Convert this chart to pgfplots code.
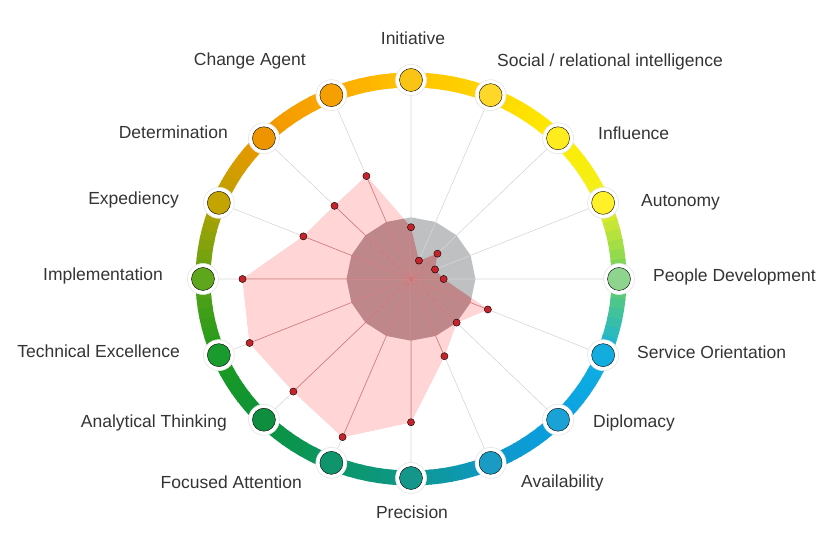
\documentclass[border=0pt]{standalone}
\usepackage{fontspec}
\setmainfont{Liberation Sans}
\usepackage{pgfplots}
\pgfplotsset{compat=1.18}

% ring colours, one per spoke, clockwise from Initiative
\definecolor{R0}{RGB}{255,196,0}
\definecolor{R1}{RGB}{255,214,0}
\definecolor{R2}{RGB}{255,236,0}
\definecolor{R3}{RGB}{240,240,30}
\definecolor{R4}{RGB}{105,208,98}
\definecolor{R5}{RGB}{16,176,226}
\definecolor{R6}{RGB}{10,160,226}
\definecolor{R7}{RGB}{14,152,200}
\definecolor{R8}{RGB}{14,152,140}
\definecolor{R9}{RGB}{12,150,100}
\definecolor{R10}{RGB}{10,146,60}
\definecolor{R11}{RGB}{30,154,30}
\definecolor{R12}{RGB}{90,162,20}
\definecolor{R13}{RGB}{185,162,0}
\definecolor{R14}{RGB}{240,150,0}
\definecolor{R15}{RGB}{252,168,0}
% marker fills
\definecolor{N0}{RGB}{250,196,20}
\definecolor{N1}{RGB}{253,216,40}
\definecolor{N2}{RGB}{255,236,30}
\definecolor{N3}{RGB}{255,240,40}
\definecolor{N4}{RGB}{142,212,142}
\definecolor{N5}{RGB}{18,172,222}
\definecolor{N6}{RGB}{26,162,214}
\definecolor{N7}{RGB}{26,155,196}
\definecolor{N8}{RGB}{20,150,138}
\definecolor{N9}{RGB}{16,148,108}
\definecolor{N10}{RGB}{14,142,62}
\definecolor{N11}{RGB}{26,155,46}
\definecolor{N12}{RGB}{94,166,28}
\definecolor{N13}{RGB}{196,164,0}
\definecolor{N14}{RGB}{238,148,0}
\definecolor{N15}{RGB}{245,160,0}
\definecolor{labelgray}{RGB}{52,52,52}
\definecolor{spoke}{RGB}{214,214,214}
\definecolor{basegray}{RGB}{190,192,194}
\definecolor{pinkfill}{RGB}{255,224,224}
\definecolor{pinkburn}{RGB}{255,184,184}
\definecolor{dotred}{RGB}{198,36,44}

\pgfplotsset{node/.style={data cs=polar, only marks, mark=*, mark size=11.5pt, mark options={fill=#1, draw=none}}}

\begin{document}
\begin{tikzpicture}
\path[use as bounding box] (-411pt,-255pt) rectangle (423pt,279pt);

% gradient ring
\foreach \i in {0,...,15}{
  \pgfmathtruncatemacro\j{mod(\i+1,16)}
  \foreach \k in {0,...,7}{
    \pgfmathsetmacro\sa{90-22.5*\i-2.8125*\k}
    \pgfmathsetmacro\ea{\sa-3.2}
    \pgfmathtruncatemacro\p{100-12.5*\k-6.25}
    \draw[line width=15pt, color=R\i!\p!R\j]
      (\sa:208pt and 199pt) arc[start angle=\sa, end angle=\ea, x radius=208pt, y radius=199pt];
  }
}

\begin{axis}[
    anchor=origin, at={(0pt,0pt)},
    x=208pt, y=199pt,
    xmin=-1.1, xmax=1.1, ymin=-1.1, ymax=1.1,
    hide axis, clip=false,
]
% reference profile
\addplot[data cs=polar, draw=none, fill=basegray] coordinates {
  (90,0.31)(67.5,0.31)(45,0.31)(22.5,0.31)(0,0.31)(-22.5,0.31)(-45,0.31)(-67.5,0.31)
  (-90,0.31)(-112.5,0.31)(-135,0.31)(-157.5,0.31)(180,0.31)(157.5,0.31)(135,0.31)(112.5,0.31)(90,0.31)
};
% spokes
\addplot[data cs=polar, color=spoke, line width=0.6pt] coordinates {
  (0,0)(90,1)(0,0)(67.5,1)(0,0)(45,1)(0,0)(22.5,1)(0,0)(0,1)(0,0)(-22.5,1)(0,0)(-45,1)(0,0)(-67.5,1)
  (0,0)(-90,1)(0,0)(-112.5,1)(0,0)(-135,1)(0,0)(-157.5,1)(0,0)(180,1)(0,0)(157.5,1)(0,0)(135,1)(0,0)(112.5,1)
};
% person profile
\addplot[data cs=polar, draw=none, fill=pinkfill, blend mode=multiply] coordinates {
  (90,0.26)(67.5,0.10)(45,0.18)(22.5,0.125)(0,0.157)(-22.5,0.40)(-45,0.31)(-67.5,0.42)
  (-90,0.72)(-112.5,0.86)(-135,0.80)(-157.5,0.84)(180,0.81)(157.5,0.56)(135,0.52)(112.5,0.56)(90,0.26)
};
\addplot[data cs=polar, draw=none, fill=pinkburn, blend mode=color burn] coordinates {
  (90,0.26)(67.5,0.10)(45,0.18)(22.5,0.125)(0,0.157)(-22.5,0.40)(-45,0.31)(-67.5,0.42)
  (-90,0.72)(-112.5,0.86)(-135,0.80)(-157.5,0.84)(180,0.81)(157.5,0.56)(135,0.52)(112.5,0.56)(90,0.26)
};
\addplot[data cs=polar, color=dotred, line width=0.5pt, opacity=0.35] coordinates {
  (0,0)(90,0.26)(0,0)(67.5,0.10)(0,0)(45,0.18)(0,0)(22.5,0.125)(0,0)(0,0.157)(0,0)(-22.5,0.40)(0,0)(-45,0.31)(0,0)(-67.5,0.42)
  (0,0)(-90,0.72)(0,0)(-112.5,0.86)(0,0)(-135,0.80)(0,0)(-157.5,0.84)(0,0)(180,0.81)(0,0)(157.5,0.56)(0,0)(135,0.52)(0,0)(112.5,0.56)
};
\addplot[data cs=polar, only marks, mark=*, mark size=3.6pt, mark options={fill=dotred, draw=none}] coordinates {
  (90,0.26)(67.5,0.10)(45,0.18)(22.5,0.125)(0,0.157)(-22.5,0.40)(-45,0.31)(-67.5,0.42)
  (-90,0.72)(-112.5,0.86)(-135,0.80)(-157.5,0.84)(180,0.81)(157.5,0.56)(135,0.52)(112.5,0.56)
};
% spoke end markers
\addplot[data cs=polar, only marks, mark=*, mark size=15.5pt, mark options={fill=white, draw=black!10, line width=0.6pt}] coordinates {
  (90,1)(67.5,1)(45,1)(22.5,1)(0,1)(-22.5,1)(-45,1)(-67.5,1)
  (-90,1)(-112.5,1)(-135,1)(-157.5,1)(180,1)(157.5,1)(135,1)(112.5,1)
};
\addplot[node=N0] coordinates {(90,1)};
\addplot[node=N1] coordinates {(67.5,1)};
\addplot[node=N2] coordinates {(45,1)};
\addplot[node=N3] coordinates {(22.5,1)};
\addplot[node=N4] coordinates {(0,1)};
\addplot[node=N5] coordinates {(-22.5,1)};
\addplot[node=N6] coordinates {(-45,1)};
\addplot[node=N7] coordinates {(-67.5,1)};
\addplot[node=N8] coordinates {(-90,1)};
\addplot[node=N9] coordinates {(-112.5,1)};
\addplot[node=N10] coordinates {(-135,1)};
\addplot[node=N11] coordinates {(-157.5,1)};
\addplot[node=N12] coordinates {(180,1)};
\addplot[node=N13] coordinates {(157.5,1)};
\addplot[node=N14] coordinates {(135,1)};
\addplot[node=N15] coordinates {(112.5,1)};
\end{axis}

\begin{scope}[every node/.style={inner sep=0pt, text=labelgray, font=\fontsize{17.5}{21}\selectfont}]
\node[anchor=center] at (2pt,241pt) {Initiative};
\node[anchor=center] at (1pt,-233pt) {Precision};
\node[anchor=west] at (86pt,217pt) {Social / relational intelligence};
\node[anchor=west] at (187pt,146pt) {Influence};
\node[anchor=west] at (230pt,77pt) {Autonomy};
\node[anchor=west] at (242pt,2pt) {People Development};
\node[anchor=west] at (226pt,-73pt) {Service Orientation};
\node[anchor=west] at (182pt,-144pt) {Diplomacy};
\node[anchor=west] at (110pt,-204pt) {Availability};
\node[anchor=east] at (-105pt,218pt) {Change Agent};
\node[anchor=east] at (-183pt,147pt) {Determination};
\node[anchor=east] at (-232pt,79pt) {Expediency};
\node[anchor=east] at (-248pt,3pt) {Implementation};
\node[anchor=east] at (-231pt,-72pt) {Technical Excellence};
\node[anchor=east] at (-184pt,-144pt) {Analytical Thinking};
\node[anchor=east] at (-109pt,-203pt) {Focused Attention};
\end{scope}
\end{tikzpicture}
\end{document}
